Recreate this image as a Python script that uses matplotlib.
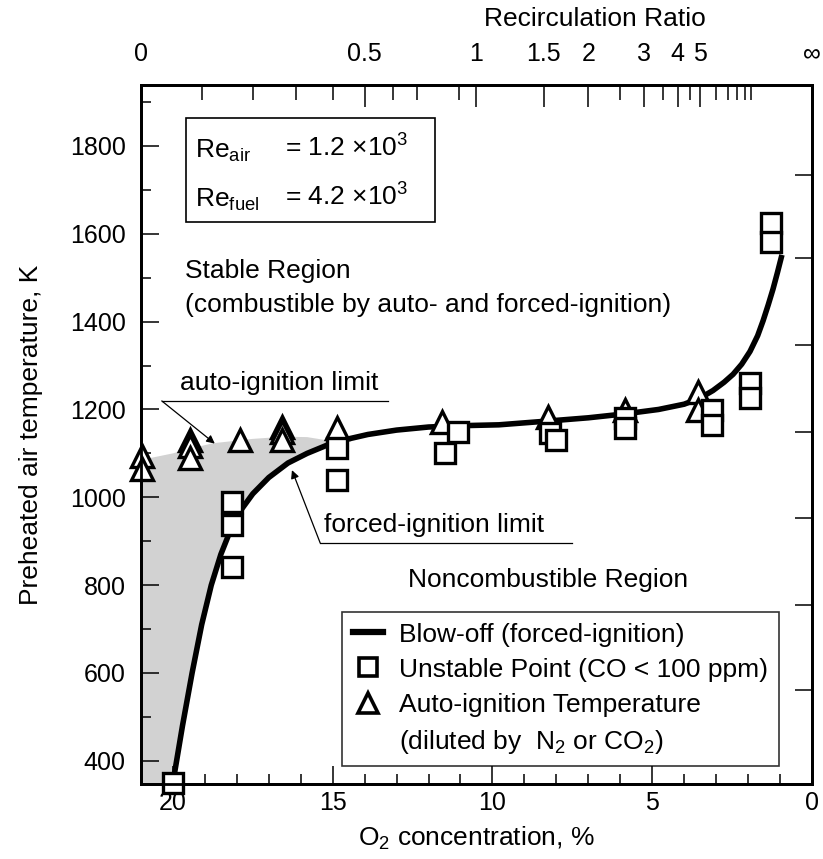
import numpy as np
import matplotlib
matplotlib.use('Agg')
import matplotlib.pyplot as plt
from matplotlib.lines import Line2D
from matplotlib.patches import Rectangle
from matplotlib.ticker import MultipleLocator, FixedLocator

plt.rcParams['font.family'] = ['Liberation Sans', 'DejaVu Sans']
plt.rcParams['mathtext.fontset'] = 'custom'
plt.rcParams['mathtext.rm'] = 'Liberation Sans'
plt.rcParams['mathtext.it'] = 'Liberation Sans:italic'
plt.rcParams['mathtext.bf'] = 'Liberation Sans:bold'

## data
# blow-off (forced-ignition) curve
blow_o2 = [20.0, 19.7, 19.4, 19.1, 18.8, 18.5, 18.2, 17.9, 17.5, 17.0, 16.4,
           15.8, 15.2, 14.5, 13.9, 13.0, 12.0, 11.0, 9.8, 8.2, 7.0, 5.85,
           4.8, 4.0, 3.5, 3.1, 2.75, 2.47, 2.2, 1.94, 1.7, 1.53, 1.37, 1.22,
           1.08, 0.94]
blow_T = [350, 480, 600, 710, 800, 870, 925, 968, 1008, 1045, 1078,
          1100, 1118, 1133, 1143, 1153, 1160, 1163, 1165, 1174, 1181, 1190,
          1200, 1212, 1226, 1243, 1262, 1280, 1303, 1332, 1368, 1402, 1438, 1474,
          1512, 1552]

# auto-ignition limit (upper edge of the shaded area)
auto_o2 = [21.0, 20.0, 19.5, 18.75, 17.5, 16.5, 15.8, 15.2]
auto_T = [1085, 1100, 1110, 1123, 1133, 1138, 1137, 1130]

# unstable points (squares)
sq_o2 = [20.0, 18.15, 18.15, 18.15, 14.87, 14.87, 11.5, 11.08, 8.2, 8.0,
         5.85, 5.85, 3.13, 3.13, 1.94, 1.94, 1.28, 1.28]
sq_T = [350, 989, 937, 841, 1112, 1039, 1101, 1149, 1146, 1130,
        1180, 1158, 1199, 1165, 1260, 1226, 1625, 1581]

# auto-ignition temperature (triangles)
tri_o2 = [20.97, 20.97, 19.47, 19.47, 19.47, 17.9, 16.59, 16.59, 16.59,
          14.87, 11.58, 8.26, 5.85, 3.57, 3.57]
tri_T = [1095, 1065, 1130, 1117, 1090, 1130, 1160, 1148, 1130,
         1158, 1171, 1183, 1199, 1240, 1199]

# axis ticks
x_major = [20, 15, 10, 5, 0]
y_major = [400, 600, 800, 1000, 1200, 1400, 1600, 1800]
right_ticks = [1734, 1545, 1347, 1149, 953, 754, 561]
R_major = [0, 0.5, 1, 1.5, 2, 3, 4, 5]
R_major_lab = ['0', '0.5', '1', '1.5', '2', '3', '4', '5']
R_minor = [0.1, 0.2, 0.3, 0.4, 0.6, 0.7, 0.9, 2.5, 3.5, 4.5, 6, 7, 8, 9, 10]
O2_air = 21.0


def r_to_o2(r):
    return [O2_air / (1 + v) for v in r]


FS = 19     # text size
TS = 18     # tick label size

fig = plt.figure(figsize=(8.23, 8.59), dpi=100)
ax = fig.add_axes([0.1713, 0.0873, 0.8153, 0.8138])

# shaded region between auto-ignition limit and blow-off curve
k = blow_o2.index(15.2)
poly_x = [21.0] + auto_o2 + blow_o2[k::-1] + [21.0]
poly_y = [blow_T[0] - 5] + auto_T + blow_T[k::-1] + [blow_T[0] - 5]
ax.fill(poly_x, poly_y, facecolor='#d2d2d2', edgecolor='none', zorder=1)

ax.plot(blow_o2, blow_T, color='k', lw=4, solid_capstyle='butt',
        solid_joinstyle='round', zorder=2)
ax.plot(sq_o2, sq_T, ls='none', marker='s', ms=14, mfc='white', mec='k', mew=2.4,
        zorder=4, clip_on=False)
ax.plot(tri_o2, tri_T, ls='none', marker='^', ms=16, mfc='white', mec='k', mew=2.4,
        zorder=3, clip_on=False)

ax.set_xlim(21, 0)
ax.set_ylim(347, 1939)
ax.xaxis.set_major_locator(FixedLocator(x_major))
ax.xaxis.set_minor_locator(MultipleLocator(1))
ax.yaxis.set_major_locator(FixedLocator(y_major))
ax.yaxis.set_minor_locator(MultipleLocator(100))
ax.tick_params(which='both', direction='in', width=1.1, labelsize=TS)
ax.tick_params(axis='x', which='major', length=13, pad=5)
ax.tick_params(axis='x', which='minor', length=7)
ax.tick_params(axis='y', which='major', length=13, pad=11)
ax.tick_params(axis='y', which='minor', length=7)
for s in ax.spines.values():
    s.set_linewidth(2)

ax.set_xlabel(r'O$_2$ concentration, %', fontsize=FS)
ax.xaxis.set_label_coords(0.5, -0.058)
ax.set_ylabel('Preheated air temperature, K', fontsize=FS)
ax.yaxis.set_label_coords(-0.146, 0.5)

# top axis: recirculation ratio
ax2 = ax.twiny()
ax2.set_xlim(21, 0)
ax2.set_xticks(r_to_o2(R_major) + [0.0])
ax2.set_xticklabels(R_major_lab + ['\u221e'])
ax2.set_xticks(r_to_o2(R_minor), minor=True)
ax2.tick_params(which='both', direction='in', width=1.1, labelsize=TS)
ax2.tick_params(which='major', length=16, pad=14)
ax2.tick_params(which='minor', length=11)
for s in ax2.spines.values():
    s.set_linewidth(2)
fig.text(595 / 823, 1 - 19 / 859, 'Recirculation Ratio', ha='center', va='center',
         fontsize=FS)

# right axis ticks
ax3 = ax.twinx()
ax3.set_ylim(ax.get_ylim())
ax3.set_yticks(right_ticks)
ax3.set_yticklabels([])
ax3.tick_params(direction='in', length=12, width=1.1)

# Reynolds box
ax.add_patch(Rectangle((0.067, 0.804), 0.371, 0.149, transform=ax.transAxes,
                       fill=False, lw=1.2, zorder=5))
ax.text(0.080, 0.905, r'Re$_{\mathregular{air}}$', transform=ax.transAxes,
        fontsize=FS, va='center')
ax.text(0.215, 0.910, r'= 1.2 $\times$10$^{3}$', transform=ax.transAxes,
        fontsize=FS, va='center')
ax.text(0.080, 0.835, r'Re$_{\mathregular{fuel}}$', transform=ax.transAxes,
        fontsize=FS, va='center')
ax.text(0.215, 0.840, r'= 4.2 $\times$10$^{3}$', transform=ax.transAxes,
        fontsize=FS, va='center')

# region labels
ax.text(0.0656, 0.734, 'Stable Region', transform=ax.transAxes, fontsize=FS,
        va='center')
ax.text(0.0656, 0.685, '(combustible by auto- and forced-ignition)',
        transform=ax.transAxes, fontsize=FS, va='center')
ax.text(0.398, 0.292, 'Noncombustible Region', transform=ax.transAxes,
        fontsize=FS, va='center')

# leader lines
ax.text(0.058, 0.573, 'auto-ignition limit', transform=ax.transAxes, fontsize=FS,
        va='center')
ax.plot([0.031, 0.368], [0.548, 0.548], color='k', lw=0.9, transform=ax.transAxes)
ax.annotate('', xy=(0.110, 0.487), xytext=(0.031, 0.548), xycoords='axes fraction',
            arrowprops=dict(arrowstyle='-|>', lw=0.9, color='k', mutation_scale=12,
                            shrinkA=0, shrinkB=0))
ax.text(0.273, 0.370, 'forced-ignition limit', transform=ax.transAxes, fontsize=FS,
        va='center')
ax.plot([0.267, 0.642], [0.345, 0.345], color='k', lw=0.9, transform=ax.transAxes)
ax.annotate('', xy=(0.225, 0.449), xytext=(0.267, 0.345), xycoords='axes fraction',
            arrowprops=dict(arrowstyle='-|>', lw=0.9, color='k', mutation_scale=12,
                            shrinkA=0, shrinkB=0))

# legend
handles = [Line2D([], [], color='k', lw=4.5),
           Line2D([], [], ls='none', marker='s', ms=13, mfc='white', mec='k', mew=2.6),
           Line2D([], [], ls='none', marker='^', ms=14, mfc='white', mec='k', mew=2.6),
           Line2D([], [], ls='none')]
labels = ['Blow-off (forced-ignition)', 'Unstable Point (CO < 100 ppm)',
          'Auto-ignition Temperature', r'(diluted by  N$_2$ or CO$_2$)']
leg = ax.legend(handles, labels, loc='upper left', bbox_to_anchor=(0.30, 0.246),
                fontsize=FS, frameon=True, fancybox=False, edgecolor='k',
                handlelength=1.15, handletextpad=0.6, labelspacing=0.42,
                borderpad=0.4, borderaxespad=0)
leg.get_frame().set_linewidth(1.2)
leg.set_zorder(6)

plt.savefig('out.png', dpi=100)
